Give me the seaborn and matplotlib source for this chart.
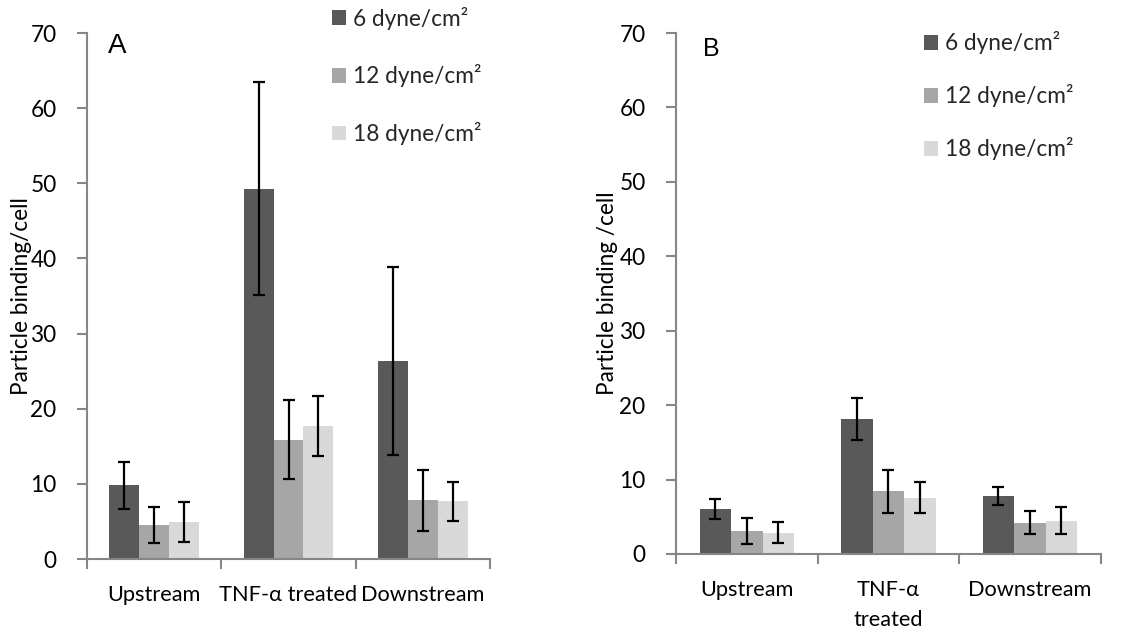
import matplotlib
matplotlib.use("Agg")
import matplotlib.pyplot as plt
from matplotlib.ticker import FixedLocator
from matplotlib.patches import Patch
import seaborn as sns
import pandas as pd

sns.set_theme(style="white")
plt.rcParams["font.family"] = ["Lato", "DejaVu Sans"]

sites_a = ["Upstream", "TNF-\u03b1 treated", "Downstream"]
sites_b = ["Upstream", "TNF-\u03b1\ntreated", "Downstream"]
shears = ["6 dyne/cm\u00b2", "12 dyne/cm\u00b2", "18 dyne/cm\u00b2"]
colors = ["#595959", "#a6a6a6", "#d9d9d9"]

# Panel A: mean particle binding per cell and error, per shear stress
a_6 = [9.8, 49.3, 26.3]
a_12 = [4.5, 15.9, 7.8]
a_18 = [4.9, 17.7, 7.7]
a_6_err = [3.1, 14.2, 12.5]
a_12_err = [2.4, 5.25, 4.1]
a_18_err = [2.65, 3.95, 2.6]

# Panel B
b_6 = [6.05, 18.1, 7.8]
b_12 = [3.1, 8.4, 4.2]
b_18 = [2.87, 7.55, 4.5]
b_6_err = [1.35, 2.85, 1.2]
b_12_err = [1.7, 2.95, 1.55]
b_18_err = [1.4, 2.1, 1.8]

yticks = [0, 10, 20, 30, 40, 50, 60, 70]

fig = plt.figure(figsize=(11.41, 6.33), dpi=100)
fig.patch.set_facecolor("white")

axis_grey = "#868686"
fs = 16.3
fs_x = 15.7


def panel(rect, sites, series, errs, letter, letter_pos, letter_size, ylabel,
          legend_anchor, legend_spacing):
    ax = fig.add_axes(rect)
    rows = []
    for s, vals in zip(shears, series):
        for site, v in zip(sites, vals):
            rows.append({"site": site, "shear": s, "value": v})
    df = pd.DataFrame(rows)
    sns.barplot(data=df, x="site", y="value", hue="shear", order=sites,
                hue_order=shears, palette=colors, saturation=1, width=0.667,
                errorbar=None, ax=ax, legend=False, linewidth=0)
    for cont, err in zip(ax.containers, errs):
        xs = [p.get_x() + p.get_width() / 2 for p in cont.patches]
        ys = [p.get_height() for p in cont.patches]
        ax.errorbar(xs, ys, yerr=err, fmt="none", ecolor="black",
                    elinewidth=1.6, capsize=4, capthick=1.6, zorder=5)

    ax.set_xlim(-0.5, 2.5)
    ax.set_ylim(0, 70)
    ax.set_yticks(yticks)
    ax.set_xlabel("")
    ax.set_ylabel(ylabel, fontsize=fs, color="black")
    ax.yaxis.set_label_coords(-0.137, 0.5)
    for side in ["top", "right"]:
        ax.spines[side].set_visible(False)
    for side in ["left", "bottom"]:
        ax.spines[side].set_color(axis_grey)
        ax.spines[side].set_linewidth(1.5)
    ax.xaxis.set_minor_locator(FixedLocator([-0.5, 0.5, 1.5, 2.5]))
    ax.tick_params(axis="x", which="major", length=0, pad=18.5, labelsize=fs_x,
                   labelcolor="black")
    ax.tick_params(axis="x", which="minor", bottom=True, length=7,
                   width=1.5, color=axis_grey)
    ax.tick_params(axis="y", which="major", left=True, length=7, width=1.5,
                   color=axis_grey, pad=15, labelsize=fs, labelcolor="black")
    for lab in ax.get_xticklabels():
        lab.set_linespacing(1.65)
    ax.set_facecolor("white")
    ax.grid(False)

    ax.text(letter_pos[0], letter_pos[1], letter, transform=ax.transAxes,
            fontsize=letter_size, family=["Liberation Sans", "DejaVu Sans"],
            va="top", ha="left", color="black")

    handles = [Patch(facecolor=c, edgecolor="none") for c in colors]
    ax.legend(handles, shears, loc="upper left",
              bbox_to_anchor=legend_anchor, frameon=False, fontsize=fs,
              handlelength=0.62, handleheight=0.62, handletextpad=0.3,
              labelspacing=legend_spacing, borderaxespad=0, borderpad=0)
    return ax


panel([87 / 1141, 1 - 559 / 633, 403 / 1141, 526 / 633], sites_a,
      [a_6, a_12, a_18], [a_6_err, a_12_err, a_18_err], "A", (0.053, 1.0),
      20, "Particle binding/cell", (0.608, 1.05), 1.53)

panel([676 / 1141, 1 - 554 / 633, 424.7 / 1141, 521 / 633], sites_b,
      [b_6, b_12, b_18], [b_6_err, b_12_err, b_18_err], "B", (0.064, 0.992),
      18, "Particle binding /cell", (0.585, 1.003), 1.32)

fig.savefig("out.png", dpi=100, facecolor="white")
